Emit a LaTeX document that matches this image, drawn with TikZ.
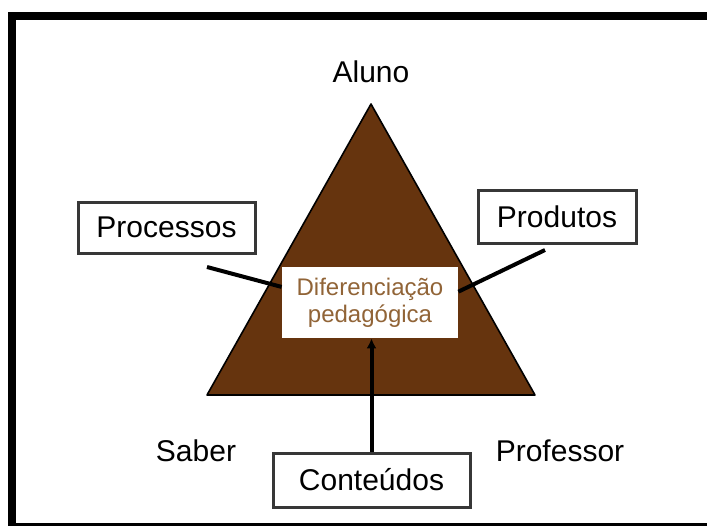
\documentclass[tikz,border=0pt]{standalone}
\usepackage{fontspec}
\setmainfont{Liberation Sans}
\usepackage{xcolor}
\usetikzlibrary{arrows.meta, positioning}

\definecolor{triangleBrown}{RGB}{102,52,14}
\definecolor{labelBrown}{RGB}{145,100,55}
\definecolor{boxGray}{RGB}{55,55,55}

\begin{document}
\begin{tikzpicture}[
    x=0.5pt, y=-0.5pt,
    label/.style = {font=\fontsize{15}{18}\selectfont, inner sep=0pt},
    box/.style = {rectangle, draw=boxGray, line width=1.5pt, fill=white,
                  font=\fontsize{15}{18}\selectfont, inner sep=0pt, align=center},
    center/.style = {rectangle, fill=white, inner sep=0pt, align=center,
                     text=labelBrown, font=\fontsize{12}{13.5}\selectfont},
    link/.style = {line width=2pt, black},
    arrow/.style = {-{Latex[length=5pt, width=5pt]}, line width=2pt, black}
]

\useasboundingbox (0,0) rectangle (707,526);

% Frame
\fill[black] (8,12) rectangle (707,20);
\fill[black] (8,12) rectangle (16,526);
\fill[black] (8,523) rectangle (707,526);

% Triangle
\coordinate (apex) at (371,104);
\coordinate (left) at (207,395);
\coordinate (right) at (535,395);
\filldraw[fill=triangleBrown, draw=black, line width=0.8pt, line join=round]
    (apex) -- (left) -- (right) -- cycle;

% Corners
\node[label] (aluno) at (371,72) {Aluno};
\node[label] (saber) at (196,451) {Saber};
\node[label] (professor) at (560,451) {Professor};

% Center
\node[center, minimum width=88pt, minimum height=35.5pt] (diff) at (370,302.5)
    {Diferenciação\\pedagógica};

% Boxes
\node[box, minimum width=88.5pt, minimum height=25.5pt] (processos) at (166.5,227.5) {Processos};
\node[box, minimum width=79pt, minimum height=26.5pt] (produtos) at (557,216.5) {Produtos};
\node[box, minimum width=98.5pt, minimum height=27pt] (conteudos) at (371.5,480) {Conteúdos};

% Links
\coordinate (procEnd) at (207,267);
\coordinate (prodEnd) at (545,250);
\draw[link] (procEnd) -- (diff.170);
\draw[link] (prodEnd) -- (diff.7);
\draw[arrow] (conteudos.north) -- (conteudos.north |- diff.south);

\end{tikzpicture}
\end{document}
